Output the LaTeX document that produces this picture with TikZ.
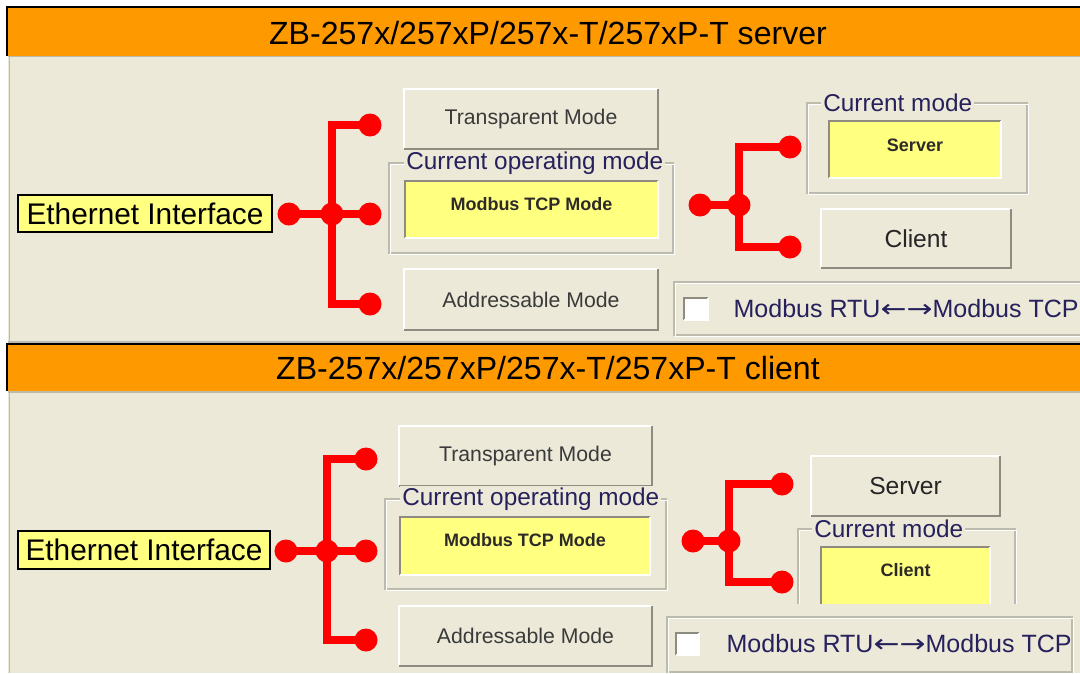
\documentclass[tikz,border=0pt]{standalone}
\usepackage{fontspec}
\setmainfont{Liberation Sans}
\newfontfamily\arrowfont{DejaVu Sans}[FakeStretch=1.24]
\usetikzlibrary{positioning}

\definecolor{panel}{HTML}{ECE9D8}
\definecolor{bar}{HTML}{FF9900}
\definecolor{field}{HTML}{FFFF80}
\definecolor{shade}{HTML}{8E8C80}
\definecolor{rim}{HTML}{BDBBAE}
\definecolor{ink}{HTML}{26205C}
\definecolor{btnink}{HTML}{3A3A3A}

\begin{document}
\begin{tikzpicture}[x=0.025cm, y=-0.025cm,
  wire/.style={red, line width=0.2cm, line join=miter},
  dot/.style={circle, fill=red, inner sep=0pt, minimum size=0.575cm},
  btn/.style={fill=panel, inner sep=0pt, append after command={
    (\tikzlastnode.south west) edge[draw=white, line width=1.3pt, to path={|- (\tikztotarget)}] (\tikzlastnode.north east)
    (\tikzlastnode.south west) edge[draw=shade, line width=1.6pt, to path={-| (\tikztotarget)}] (\tikzlastnode.north east)}},
  well/.style={fill=field, inner sep=0pt, append after command={
    (\tikzlastnode.south west) edge[draw=shade, line width=1.6pt, to path={|- (\tikztotarget)}] (\tikzlastnode.north east)
    (\tikzlastnode.south west) edge[draw=white, line width=1.3pt, to path={-| (\tikztotarget)}] (\tikzlastnode.north east)}},
  etch/.style={draw=rim, line width=0.9pt,
    postaction={draw=white, line width=0.7pt, transform canvas={xshift=0.8pt, yshift=-0.8pt}}},
  eth/.style={fill=field, draw=black, line width=1pt, inner sep=0pt, font=\fontsize{21.2}{24}\selectfont},
  title/.style={font=\fontsize{22.8}{26}\selectfont},
  modetext/.style={font=\fontsize{15.1}{18}\selectfont, text=btnink},
  keytext/.style={font=\fontsize{17.5}{20}\selectfont, text=black!85},
  grplab/.style={fill=panel, text=ink, inner sep=1.5pt, anchor=west, font=\fontsize{17.3}{20}\selectfont},
  welltext/.style={font=\fontsize{12.8}{15}\bfseries\selectfont, text=black!90!olive},
  rtu/.style={inner sep=0pt, text=ink, font=\fontsize{17.8}{20}\selectfont}]
\clip (0,0) rectangle (1080,673);
\fill[white] (0,0) rectangle (1080,673);

% server panel
\fill[bar] (8,8) rectangle (1080,56);
\draw[black, line width=1.4pt] (7,56) |- (1080,7);
\fill[panel] (8,57) rectangle (1080,341);
\draw[rim, line width=1.4pt] (8,56.5) -- (1080,56.5) (9.5,57) -- (9.5,341);
\node[title] (hdA) at (548,33) {ZB-257x/257xP/257x-T/257xP-T server};

\node[eth, minimum width=6.35cm, minimum height=0.925cm] (ethA) at (145,213.5) {Ethernet Interface};
\node[dot] (eA) at (289,214) {};
\node[dot] (jA) at (332,214) {};
\node[dot] (tA1) at (370,125) {};
\node[dot] (tA2) at (370,214) {};
\node[dot] (tA3) at (370,304) {};
\draw[wire] (eA.center) -- (jA.center);
\draw[wire] (tA1.center) -| (jA.center) |- (tA3.center);
\draw[wire] (jA.center) -- (tA2.center);

\node[btn, modetext, minimum width=6.35cm, minimum height=1.5cm] (trA) at (531,119) {Transparent Mode};
\draw[etch] (389,163) rectangle (673,253);
\node[grplab] (glA) at (404,163) {Current operating mode};
\node[well, minimum width=6.325cm, minimum height=1.425cm,
  label={[welltext, yshift=0.14cm]center:Modbus TCP Mode}] (fdA) at (531.5,209.5) {};
\node[btn, modetext, minimum width=6.35cm, minimum height=1.525cm] (adA) at (531,299.5) {Addressable Mode};

\node[dot] (eB) at (700,205) {};
\node[dot] (jB) at (739,205) {};
\node[dot] (tB1) at (790,147) {};
\node[dot] (tB2) at (790,247) {};
\draw[wire] (eB.center) -- (jB.center);
\draw[wire] (tB1.center) -| (jB.center) |- (tB2.center);

\draw[etch] (807,103) rectangle (1027,193);
\node[grplab] (gmA) at (821,103) {Current mode};
\node[well, minimum width=4.3cm, minimum height=1.425cm,
  label={[welltext, yshift=0.11cm]center:Server}] (svA) at (915,149.5) {};
\node[btn, keytext, minimum width=4.75cm, minimum height=1.475cm] (clA) at (916,238.5) {Client};

\draw[etch] (674,282) rectangle (1095,335);
\node[well, fill=white, minimum width=0.6cm, minimum height=0.55cm] (cbA) at (696,309) {};
\node[rtu, right=0.625cm of cbA] (rtuA) {Modbus RTU{\arrowfont ←→}Modbus TCP};

% client panel
\fill[rim] (8,341) rectangle (1080,343);
\fill[bar] (8,345) rectangle (1080,391);
\draw[black, line width=1.4pt] (7,391) |- (1080,344);
\fill[panel] (8,393) rectangle (1080,673);
\draw[rim, line width=1.4pt] (8,392) -- (1080,392) (9.5,393) -- (9.5,673);
\node[title] (hdB) at (548,368) {ZB-257x/257xP/257x-T/257xP-T client};

\node[eth, minimum width=6.3cm, minimum height=0.95cm] (ethB) at (144,550) {Ethernet Interface};
\node[dot] (eC) at (286,551) {};
\node[dot] (jC) at (327,551) {};
\node[dot] (tC1) at (366,459) {};
\node[dot] (tC2) at (366,551) {};
\node[dot] (tC3) at (366,640) {};
\draw[wire] (eC.center) -- (jC.center);
\draw[wire] (tC1.center) -| (jC.center) |- (tC3.center);
\draw[wire] (jC.center) -- (tC2.center);

\node[btn, modetext, minimum width=6.325cm, minimum height=1.5cm] (trB) at (525.5,456) {Transparent Mode};
\draw[etch] (385,499) rectangle (666,589);
\node[grplab] (glB) at (400,499) {Current operating mode};
\node[well, minimum width=6.25cm, minimum height=1.45cm,
  label={[welltext, yshift=0.15cm]center:Modbus TCP Mode}] (fdB) at (525,546) {};
\node[btn, modetext, minimum width=6.325cm, minimum height=1.5cm] (adB) at (525.5,636) {Addressable Mode};

\node[dot] (eD) at (693,541) {};
\node[dot] (jD) at (729,541) {};
\node[dot] (tD1) at (782,484) {};
\node[dot] (tD2) at (782,582) {};
\draw[wire] (eD.center) -- (jD.center);
\draw[wire] (tD1.center) -| (jD.center) |- (tD2.center);

\node[btn, keytext, minimum width=4.725cm, minimum height=1.5cm] (svB) at (905.5,486) {Server};
\begin{scope}
  \clip (790,520) rectangle (1030,603);
  \draw[etch] (798,529) rectangle (1015,650);
  \node[well, minimum width=4.225cm, minimum height=1.75cm,
    label={[welltext, yshift=0.3cm]center:Client}] (clB) at (905.5,582) {};
\end{scope}
\node[grplab] (gmB) at (812,529) {Current mode};

\draw[etch] (667,617) rectangle (1072,672);
\node[well, fill=white, minimum width=0.575cm, minimum height=0.55cm] (cbB) at (687.5,644) {};
\node[rtu, right=0.675cm of cbB] (rtuB) {Modbus RTU{\arrowfont ←→}Modbus TCP};
\end{tikzpicture}
\end{document}
